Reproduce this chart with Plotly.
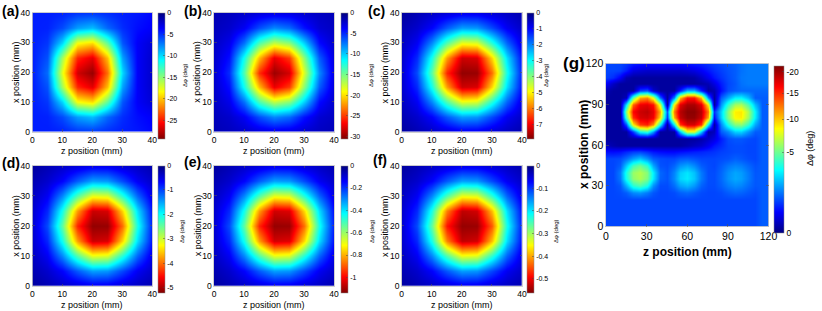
import numpy as np
import plotly.graph_objects as go

W, H = 822, 311

# ---------------- data ----------------
pos_small = [0, 5, 10, 15, 20, 25, 30, 35, 40]          # mm (z and x grid)
pos_g = list(range(0, 121, 5))                        # mm (z and x grid) for (g)

# rows: x position 0..40 mm (bottom->top), cols: z position 0..40 mm; values: delta phi (deg)
dphi_a = [
    [-4.5, -4.5, -4.6, -5.1, -5.2, -4.9, -4.5, -4.3, -3.8],
    [-4.5, -4.6, -5.8, -8.2, -9.1, -6.6, -4.9, -4.0, -3.5],
    [-4.5, -5.2, -9.9, -18.1, -19.2, -13.7, -6.1, -3.5, -2.5],
    [-4.5, -6.0, -15.8, -24.6, -26.4, -20.1, -8.3, -3.5, -2.2],
    [-4.5, -6.8, -17.8, -27.0, -28.6, -22.4, -9.9, -3.5, -2.2],
    [-4.5, -6.0, -15.8, -24.6, -26.4, -20.1, -8.3, -3.5, -2.2],
    [-4.5, -5.2, -9.9, -18.1, -19.2, -13.7, -6.1, -3.5, -2.5],
    [-4.5, -4.6, -5.8, -8.2, -9.1, -6.6, -4.9, -4.0, -3.5],
    [-4.5, -4.5, -4.6, -5.1, -5.2, -4.9, -4.5, -4.3, -3.8],
]
dphi_b = [
    [-1.6, -1.9, -2.3, -2.7, -3.0, -2.9, -2.4, -2.0, -1.7],
    [-1.8, -2.3, -3.5, -6.1, -7.9, -7.0, -4.3, -2.5, -2.0],
    [-2.1, -3.2, -7.2, -13.7, -17.2, -15.6, -10.1, -4.1, -2.3],
    [-2.3, -4.2, -12.0, -21.1, -27.4, -25.1, -15.6, -6.6, -2.7],
    [-2.4, -5.1, -13.9, -25.4, -29.7, -28.1, -17.9, -8.0, -2.9],
    [-2.3, -4.2, -12.0, -21.1, -27.4, -25.1, -15.6, -6.6, -2.7],
    [-2.1, -3.2, -7.2, -13.7, -17.2, -15.6, -10.1, -4.1, -2.3],
    [-1.8, -2.3, -3.5, -6.1, -7.9, -7.0, -4.3, -2.5, -2.0],
    [-1.6, -1.9, -2.3, -2.7, -3.0, -2.9, -2.4, -2.0, -1.7],
]
dphi_c = [
    [-0.25, -0.41, -0.57, -0.69, -0.84, -0.83, -0.67, -0.53, -0.37],
    [-0.39, -0.60, -0.98, -1.68, -2.22, -2.15, -1.54, -0.89, -0.56],
    [-0.51, -0.90, -2.04, -3.59, -4.76, -4.64, -3.24, -1.76, -0.76],
    [-0.61, -1.28, -3.12, -5.69, -7.30, -7.20, -5.23, -2.73, -1.06],
    [-0.62, -1.56, -3.70, -6.63, -7.75, -7.70, -6.05, -3.12, -1.17],
    [-0.61, -1.28, -3.12, -5.69, -7.30, -7.20, -5.23, -2.73, -1.06],
    [-0.51, -0.90, -2.04, -3.59, -4.76, -4.64, -3.24, -1.76, -0.76],
    [-0.39, -0.60, -0.98, -1.68, -2.22, -2.15, -1.54, -0.89, -0.56],
    [-0.25, -0.41, -0.57, -0.69, -0.84, -0.83, -0.67, -0.53, -0.37],
]
dphi_d = [
    [-0.16, -0.27, -0.38, -0.46, -0.56, -0.55, -0.44, -0.35, -0.24],
    [-0.26, -0.40, -0.65, -1.11, -1.47, -1.42, -1.01, -0.59, -0.37],
    [-0.34, -0.60, -1.35, -2.37, -3.14, -3.06, -2.14, -1.16, -0.50],
    [-0.40, -0.84, -2.06, -3.76, -4.82, -4.75, -3.45, -1.80, -0.70],
    [-0.41, -1.03, -2.45, -4.38, -5.10, -5.08, -3.99, -2.06, -0.77],
    [-0.40, -0.84, -2.06, -3.76, -4.82, -4.75, -3.45, -1.80, -0.70],
    [-0.34, -0.60, -1.35, -2.37, -3.14, -3.06, -2.14, -1.16, -0.50],
    [-0.26, -0.40, -0.65, -1.11, -1.47, -1.42, -1.01, -0.59, -0.37],
    [-0.16, -0.27, -0.38, -0.46, -0.56, -0.55, -0.44, -0.35, -0.24],
]
dphi_e = [
    [-0.036, -0.059, -0.082, -0.100, -0.121, -0.119, -0.096, -0.076, -0.053],
    [-0.056, -0.086, -0.141, -0.241, -0.319, -0.309, -0.221, -0.128, -0.081],
    [-0.074, -0.130, -0.293, -0.515, -0.683, -0.666, -0.465, -0.252, -0.110],
    [-0.087, -0.184, -0.448, -0.818, -1.045, -1.030, -0.750, -0.392, -0.152],
    [-0.090, -0.224, -0.532, -0.952, -1.110, -1.105, -0.868, -0.448, -0.168],
    [-0.087, -0.184, -0.448, -0.818, -1.045, -1.030, -0.750, -0.392, -0.152],
    [-0.074, -0.130, -0.293, -0.515, -0.683, -0.666, -0.465, -0.252, -0.110],
    [-0.056, -0.086, -0.141, -0.241, -0.319, -0.309, -0.221, -0.128, -0.081],
    [-0.036, -0.059, -0.082, -0.100, -0.121, -0.119, -0.096, -0.076, -0.053],
]
dphi_f = [
    [-0.018, -0.029, -0.040, -0.049, -0.059, -0.058, -0.047, -0.037, -0.026],
    [-0.028, -0.042, -0.069, -0.118, -0.157, -0.152, -0.108, -0.063, -0.040],
    [-0.036, -0.064, -0.144, -0.253, -0.340, -0.332, -0.235, -0.124, -0.054],
    [-0.043, -0.090, -0.225, -0.420, -0.525, -0.515, -0.385, -0.193, -0.075],
    [-0.044, -0.110, -0.265, -0.480, -0.548, -0.545, -0.440, -0.220, -0.083],
    [-0.043, -0.090, -0.225, -0.420, -0.525, -0.515, -0.385, -0.193, -0.075],
    [-0.036, -0.064, -0.144, -0.253, -0.340, -0.332, -0.235, -0.124, -0.054],
    [-0.028, -0.042, -0.069, -0.118, -0.157, -0.152, -0.108, -0.063, -0.040],
    [-0.018, -0.029, -0.040, -0.049, -0.059, -0.058, -0.047, -0.037, -0.026],
]

# (g): rows x = 0..120 mm, cols z = 0..120 mm (5 mm step)
dphi_g = [
    [-0.8]*23 + [-1.0, -1.0],
    [-0.8]*23 + [-1.0, -1.0],
    [-0.8]*23 + [-1.0, -1.0],
    [-0.8]*23 + [-1.0, -1.0],
    [-0.8]*23 + [-1.0, -1.0],
    [-0.8, -0.8, -0.85, -1.0, -1.45, -1.6, -1.3, -0.95, -0.8, -0.8, -0.85, -1.03, -1.13, -0.99, -0.85, -0.8, -0.8, -0.85, -1.0, -1.1, -1.06, -0.95, -0.85, -1.0, -1.0],
    [-0.8, -0.8, -0.95, -1.9, -3.7, -4.4, -3.4, -1.55, -0.85, -0.85, -1.16, -1.74, -2.0, -1.62, -1.05, -0.85, -0.85, -1.03, -1.31, -1.48, -1.4, -1.15, -0.95, -1.0, -1.0],
    [-0.8, -0.8, -1.25, -3.25, -5.7, -6.4, -5.3, -2.75, -1.05, -0.92, -1.46, -2.42, -2.75, -2.23, -1.3, -0.87, -0.85, -1.12, -1.55, -1.82, -1.7, -1.31, -0.96, -1.0, -1.0],
    [-0.8, -0.8, -1.3, -3.4, -5.9, -6.55, -5.5, -2.85, -1.1, -0.91, -1.4, -2.3, -2.67, -2.15, -1.28, -0.86, -0.85, -1.1, -1.51, -1.78, -1.66, -1.29, -0.95, -1.0, -1.0],
    [-0.8, -0.8, -1.0, -2.25, -4.2, -5.0, -3.85, -1.8, -0.9, -0.85, -1.08, -1.56, -1.8, -1.46, -1.0, -0.85, -0.8, -1.0, -1.25, -1.4, -1.33, -1.1, -0.9, -1.0, -1.0],
    [-0.8, -0.8, -0.85, -1.15, -1.7, -2.15, -1.55, -1.0, -0.85, -0.8, -0.8, -0.96, -1.0, -0.9, -0.8, -0.8, -0.8, -0.85, -0.9, -1.03, -0.95, -0.85, -0.8, -1.0, -1.0],
    [-0.4, -0.38, -0.42, -0.55, -0.7, -0.75, -0.6, -0.45, -0.38, -0.35, -0.35, -0.4, -0.45, -0.5, -0.55, -0.6, -0.65, -0.75, -0.8, -0.85, -0.85, -0.8, -0.8, -1.0, -1.0],
    [-0.08, -0.04, -0.02, -0.02, -0.02, -0.02, -0.02, -0.02, -0.02, -0.02, -0.02, -0.02, -0.04, -0.08, -0.12, -0.25, -0.45, -0.6, -0.8, -0.85, -0.85, -0.8, -0.8, -1.0, -1.0],
    [-0.02, -0.02, -0.02, -0.02, -0.02, -0.02, -0.02, -0.02, -0.02, -0.02, -0.02, -0.02, -0.02, -0.02, -0.04, -0.1, -0.2, -0.5, -0.85, -0.95, -0.95, -0.85, -0.8, -1.0, -1.0],
    [-0.02, -0.02, -0.02, -0.02, -0.76, -3.3, -4.0, -1.65, -0.02, -0.02, -0.02, -2.3, -7.6, -7.6, -2.3, -0.03, -0.08, -1.0, -1.45, -2.35, -2.4, -1.6, -1.0, -1.0, -1.0],
    [-0.02, -0.02, -0.02, -0.87, -8.7, -14.4, -15.4, -11.7, -3.0, -0.02, -2.9, -14.6, -17.9, -17.9, -14.6, -2.9, -0.03, -1.45, -3.5, -5.4, -5.6, -3.9, -1.8, -1.0, -1.0],
    [-0.02, -0.02, -0.02, -4.1, -14.9, -17.9, -18.2, -16.9, -9.1, -0.7, -10.7, -18.6, -20.6, -20.6, -18.6, -10.7, -0.37, -2.35, -5.4, -8.5, -8.8, -6.1, -2.8, -1.0, -1.0],
    [-0.02, -0.02, -0.02, -5.6, -16.4, -18.4, -19.0, -17.3, -10.6, -1.0, -12.2, -19.2, -21.0, -21.0, -19.2, -12.2, -0.65, -2.4, -5.6, -8.8, -9.0, -6.4, -2.9, -1.0, -1.0],
    [-0.02, -0.02, -0.02, -2.65, -13.1, -17.1, -17.5, -15.9, -7.2, -0.02, -8.7, -17.6, -19.75, -19.75, -17.6, -8.7, -0.02, -1.6, -3.9, -6.1, -6.4, -4.4, -2.05, -1.0, -1.0],
    [-0.02, -0.02, -0.02, -0.07, -4.6, -10.7, -11.7, -7.6, -1.1, -0.02, -1.35, -10.2, -15.7, -15.7, -10.2, -1.35, -0.02, -1.0, -1.8, -2.8, -2.9, -2.05, -1.0, -1.0, -1.0],
    [-0.05, -0.02, -0.02, -0.02, -0.02, -0.76, -0.93, -0.13, -0.02, -0.02, -0.02, -0.5, -1.9, -1.9, -0.5, -0.02, -0.05, -0.4, -0.85, -1.0, -1.1, -1.1, -1.1, -1.1, -1.1],
    [-0.3, -0.1, -0.02, -0.02, -0.02, -0.02, -0.02, -0.02, -0.02, -0.02, -0.02, -0.02, -0.02, -0.02, -0.03, -0.06, -0.2, -0.5, -0.8, -0.95, -1.2, -1.3, -1.3, -1.3, -1.3],
    [-0.75, -0.6, -0.3, -0.05, -0.02, -0.02, -0.02, -0.02, -0.02, -0.02, -0.02, -0.02, -0.02, -0.03, -0.1, -0.25, -0.45, -0.65, -0.85, -1.0, -1.25, -1.3, -1.3, -1.3, -1.3],
    [-0.8, -0.8, -0.75, -0.5, -0.2, -0.15, -0.12, -0.12, -0.12, -0.12, -0.12, -0.12, -0.15, -0.2, -0.3, -0.45, -0.6, -0.75, -0.9, -1.0, -1.2, -1.3, -1.3, -1.3, -1.3],
    [-0.8, -0.8, -0.8, -0.7, -0.5, -0.45, -0.4, -0.4, -0.4, -0.4, -0.4, -0.4, -0.45, -0.5, -0.55, -0.65, -0.75, -0.85, -0.95, -1.05, -1.2, -1.3, -1.3, -1.3, -1.3],
]

panel_labels = ["(a)", "(b)", "(c)", "(d)", "(e)", "(f)", "(g)"]
small_ticks = [0, 10, 20, 30, 40]
g_ticks = [0, 30, 60, 90, 120]

cb_ranges = [-29.3, -30.6, -7.9, -5.2, -1.135, -0.56]
cb_tickvals = [
    [0, -5, -10, -15, -20, -25],
    [0, -5, -10, -15, -20, -25, -30],
    [0, -1, -2, -3, -4, -5, -6, -7],
    [0, -1, -2, -3, -4, -5],
    [0, -0.2, -0.4, -0.6, -0.8, -1],
    [0, -0.1, -0.2, -0.3, -0.4, -0.5],
]
g_cb_vals = [0, -5, -10, -15, -20]
g_cmax = -21.5

# ---------------- styling / layout ----------------
FONT = "Liberation Sans, Arial, Helvetica, sans-serif"
jet = [[0.0, "rgb(0,0,128)"], [0.125, "rgb(0,0,255)"], [0.375, "rgb(0,255,255)"],
       [0.625, "rgb(255,255,0)"], [0.875, "rgb(255,0,0)"], [1.0, "rgb(128,0,0)"]]
jet_rev = [[1 - p, c] for p, c in reversed(jet)]

def px(x):
    return x / W

def py(y):
    return 1 - y / H

cols_px = [(32.3, 152.3), (214.0, 334.0), (401.7, 522.0)]
rows_px = [(12.7, 131.7), (165.7, 286.0)]
cb_x_px = [157.7, 340.6, 527.3]
cb_rows_px = [(12.7, 138.3), (165.5, 292.7)]
cbt_x_px = [[185.0, 371.0, 546.0], [182.0, 372.0, 556.0]]
cbt_y_px = [75, 231]
lab_xy = [[(0, 1), (181.5, 1), (366, 1)], [(0, 153), (181.5, 152), (371, 150)]]

fig = go.Figure()
datasets = [dphi_a, dphi_b, dphi_c, dphi_d, dphi_e, dphi_f]
annotations = []

def fmt(v):
    if v == 0:
        return "0"
    return "%g" % v

for k, data in enumerate(datasets):
    r, c = divmod(k, 3)
    ax = k + 1
    xa = "x" if ax == 1 else f"x{ax}"
    ya = "y" if ax == 1 else f"y{ax}"
    cb_top, cb_bot = cb_rows_px[r]
    fig.add_trace(go.Heatmap(
        x=pos_small, y=pos_small, z=data, zsmooth="best",
        zmin=cb_ranges[k], zmax=0, colorscale=jet_rev, xaxis=xa, yaxis=ya,
        hoverinfo="skip",
        colorbar=dict(
            x=px(cb_x_px[c]), xanchor="left", xpad=0, ypad=0,
            y=py(cb_top), yanchor="top", len=(cb_bot - cb_top), lenmode="pixels",
            thickness=7, thicknessmode="pixels",
            outlinewidth=0.5, outlinecolor="#8a8a8a",
            tickvals=cb_tickvals[k], ticktext=[fmt(v) for v in cb_tickvals[k]],
            ticks="inside", ticklen=2, tickwidth=0.5, tickcolor="#444",
            tickfont=dict(family=FONT, size=7, color="black"),
        ),
    ))
    x0, x1 = cols_px[c]
    y0, y1 = rows_px[r]
    axis_common = dict(
        range=[0, 40], tickvals=small_ticks, ticks="inside", ticklen=2.5, tickwidth=0.6,
        tickcolor="#555", showline=True, linecolor="#b0b0b0", linewidth=0.6, mirror="ticks",
        showgrid=False, zeroline=False, tickfont=dict(family=FONT, size=8.5, color="black"),
    )
    fig.layout[f"xaxis{ax if ax > 1 else ''}"] = dict(domain=[px(x0), px(x1)], anchor=ya, **axis_common)
    fig.layout[f"yaxis{ax if ax > 1 else ''}"] = dict(domain=[py(y1), py(y0)], anchor=xa, **axis_common)
    annotations.append(dict(text="z position (mm)", x=px((x0 + x1) / 2), y=py(151 if r == 0 else 304.5),
                            xref="paper", yref="paper", showarrow=False, xanchor="center", yanchor="middle",
                            font=dict(family=FONT, size=9, color="black")))
    annotations.append(dict(text="x position (mm)", x=px(x0 - 16.5), y=py((y0 + y1) / 2),
                            xref="paper", yref="paper", showarrow=False, xanchor="center", yanchor="middle",
                            textangle=-90, font=dict(family=FONT, size=9, color="black")))
    annotations.append(dict(text="Δφ (deg)", x=px(cbt_x_px[r][c]), y=py(cbt_y_px[r]),
                            xref="paper", yref="paper", showarrow=False, xanchor="center", yanchor="middle",
                            textangle=-90, font=dict(family=FONT, size=6, color="black")))
    lx, ly = lab_xy[r][c]
    annotations.append(dict(text="<b>%s</b>" % panel_labels[k], x=px(lx), y=py(ly),
                            xref="paper", yref="paper", showarrow=False, xanchor="left", yanchor="top",
                            font=dict(family=FONT, size=14, color="black")))

# ---- panel (g), nonlinear (square-root) colour scale ----
g_arr = np.array(dphi_g, dtype=float)
g_color = np.sqrt(-g_arr)
g_cb_top, g_cb_bot = 66.0, 233.0
fig.add_trace(go.Heatmap(
    x=pos_g, y=pos_g, z=g_color, zsmooth="best", zmin=0, zmax=np.sqrt(-g_cmax),
    colorscale=jet, xaxis="x7", yaxis="y7", hoverinfo="skip",
    colorbar=dict(
        x=px(774.3), xanchor="left", xpad=0, ypad=0,
        y=py(g_cb_top), yanchor="top", len=(g_cb_bot - g_cb_top), lenmode="pixels",
        thickness=10, thicknessmode="pixels",
        outlinewidth=0.5, outlinecolor="#8a8a8a",
        tickvals=[float(np.sqrt(-v)) for v in g_cb_vals], ticktext=[fmt(v) for v in g_cb_vals],
        ticks="inside", ticklen=2, tickwidth=0.5, tickcolor="#444",
        tickfont=dict(family=FONT, size=8.5, color="black"),
    ),
))
gx0, gx1 = 606.0, 768.5
gy0, gy1 = 63.5, 226.5
g_axis = dict(range=[0, 120], tickvals=g_ticks, ticks="inside", ticklen=3, tickwidth=0.6,
              tickcolor="#555", showline=True, linecolor="#b0b0b0", linewidth=0.6, mirror="ticks",
              showgrid=False, zeroline=False, tickfont=dict(family=FONT, size=10.5, color="black"))
fig.layout["xaxis7"] = dict(domain=[px(gx0), px(gx1)], anchor="y7", **g_axis)
fig.layout["yaxis7"] = dict(domain=[py(gy1), py(gy0)], anchor="x7", **g_axis)
annotations.append(dict(text="<b>z position (mm)</b>", x=px((gx0 + gx1) / 2), y=py(252),
                        xref="paper", yref="paper", showarrow=False, xanchor="center", yanchor="middle",
                        font=dict(family=FONT, size=12, color="black")))
annotations.append(dict(text="<b>x position (mm)</b>", x=px(584), y=py((gy0 + gy1) / 2),
                        xref="paper", yref="paper", showarrow=False, xanchor="center", yanchor="middle",
                        textangle=-90, font=dict(family=FONT, size=12, color="black")))
annotations.append(dict(text="Δφ (deg)", x=px(810), y=py(149),
                        xref="paper", yref="paper", showarrow=False, xanchor="center", yanchor="middle",
                        textangle=-90, font=dict(family=FONT, size=9, color="black")))
annotations.append(dict(text="<b>(g)</b>", x=px(561), y=py(52),
                        xref="paper", yref="paper", showarrow=False, xanchor="left", yanchor="top",
                        font=dict(family=FONT, size=17, color="black")))

fig.update_layout(
    width=W, height=H, margin=dict(l=0, r=0, t=0, b=0, autoexpand=False),
    paper_bgcolor="white", plot_bgcolor="white",
    annotations=annotations, showlegend=False,
)

fig.write_html("out.html", config={"displayModeBar": False, "staticPlot": True},
               post_script="document.body.style.margin='0';document.body.style.padding='0';"
                           "document.documentElement.style.overflow='hidden';")
